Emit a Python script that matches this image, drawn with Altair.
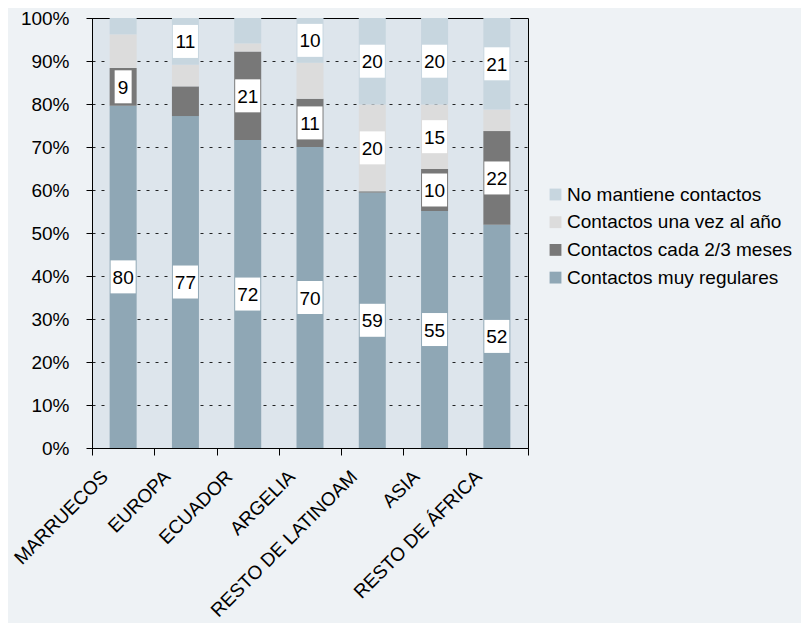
import altair as alt
import pandas as pd

categories = ["MARRUECOS", "EUROPA", "ECUADOR", "ARGELIA", "RESTO DE LATINOAM", "ASIA", "RESTO DE ÁFRICA"]
series = ["No mantiene contactos", "Contactos una vez al año", "Contactos cada 2/3 meses", "Contactos muy regulares"]
muy_regulares = [79.6, 77.2, 71.6, 70.0, 59.4, 55.1, 51.9]
cada_2_3 = [8.8, 6.9, 20.6, 11.2, 0.3, 9.8, 21.8]
una_vez = [7.8, 5.0, 1.9, 8.4, 20.2, 15.0, 5.0]
no_mantiene = [3.8, 10.9, 5.9, 10.4, 20.1, 20.1, 21.3]
colors = ["#c7d6df", "#dcdcdc", "#787878", "#8fa7b5"]

rows = []
stack_vals = [muy_regulares, cada_2_3, una_vez, no_mantiene]
stack_names = [series[3], series[2], series[1], series[0]]
for i, c in enumerate(categories):
    for o, (name, vals) in enumerate(zip(stack_names, stack_vals)):
        rows.append({"cat": c, "serie": name, "value": vals[i], "order": o})
df = pd.DataFrame(rows)

FONT = "Liberation Sans"
x_enc = alt.X("cat:N", sort=categories, title=None,
              scale=alt.Scale(paddingInner=0, paddingOuter=0),
              axis=alt.Axis(labelAngle=-45, labelAlign="right", labelBaseline="top",
                            labelPadding=12, labelOffset=-25, tickBand="extent",
                            tickSize=7, tickColor="black", domainColor="black",
                            labelFontSize=19, labelFont=FONT, labelColor="black",
                            labelLimit=0, labelOverlap=False, grid=False))
yscale = alt.Scale(domain=[0, 100], nice=False)

bars = alt.Chart(df).mark_bar(size=27).encode(
    x=x_enc,
    y=alt.Y("value:Q", stack="zero", scale=yscale, title=None,
            axis=alt.Axis(values=list(range(0, 101, 10)), labelExpr="datum.value + '%'",
                          labelFontSize=19, labelFont=FONT, labelColor="black",
                          labelPadding=17, tickSize=6, tickColor="black",
                          domainColor="black", grid=True, gridColor="black",
                          gridDash=[3, 6], gridWidth=1, gridOpacity=0.85)),
    color=alt.Color("serie:N", scale=alt.Scale(domain=series, range=colors),
                    legend=alt.Legend(title=None, orient="none", legendX=454, legendY=167,
                                      symbolType="square", symbolSize=140,
                                      symbolStrokeWidth=0, labelFontSize=19,
                                      labelFont=FONT, labelColor="black", labelLimit=0,
                                      rowPadding=7.7, labelOffset=2, padding=0)),
    order=alt.Order("order:Q"),
)

base_lbl = alt.Chart(df).transform_window(
    cum="sum(value)", groupby=["cat"], sort=[alt.SortField("order")], frame=[None, 0]
).transform_calculate(
    mid="datum.cum - datum.value / 2",
    label="format(round(datum.value), 'd')",
    digits="length(format(round(datum.value), 'd')) > 1 ? 'two' : 'one'",
).transform_filter("datum.value >= 8.5")

boxes = base_lbl.mark_point(filled=True, color="white", opacity=1, strokeWidth=0, size=1089).encode(
    x=alt.X("cat:N", sort=categories),
    y=alt.Y("mid:Q", scale=yscale),
    shape=alt.Shape("digits:N", legend=None,
                    scale=alt.Scale(domain=["one", "two"],
                                    range=["M-0.515,-1L0.515,-1L0.515,1L-0.515,1Z",
                                           "M-0.76,-1L0.76,-1L0.76,1L-0.76,1Z"])),
)

texts = base_lbl.mark_text(fontSize=19, font=FONT, color="black", baseline="middle", align="center", dy=1).encode(
    x=alt.X("cat:N", sort=categories),
    y=alt.Y("mid:Q", scale=yscale),
    text="label:N",
)

chart = alt.layer(bars, boxes, texts).properties(
    width=436, height=430,
    background="#eef2f5",
    autosize=alt.AutoSizeParams(type="none"),
    padding={"left": 84, "top": 10, "right": 273, "bottom": 175},
).configure_view(
    fill="#dde5ec", stroke="black", strokeWidth=1
)

chart.save("out.html", embed_options={"renderer": "svg", "actions": False})
